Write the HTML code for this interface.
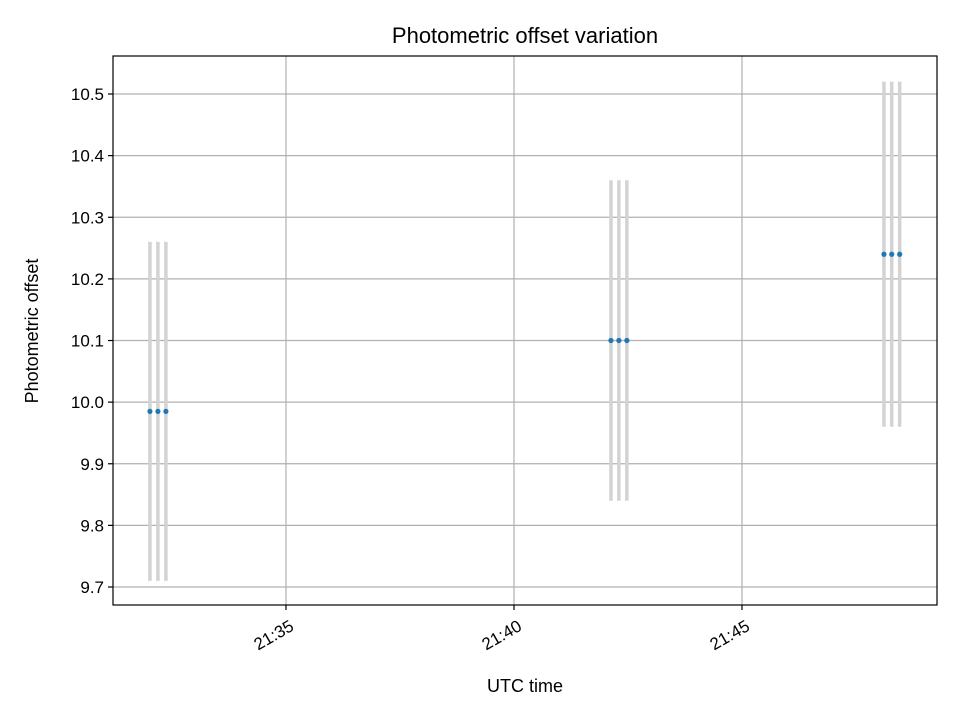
<!DOCTYPE html>
<html><head><meta charset="utf-8"><style>
body{margin:0;background:#fff;}
svg text{font-family:"Liberation Sans","DejaVu Sans",sans-serif;fill:#000;}
</style></head><body>
<svg id="chart" width="960" height="720">
<text x="525" y="43" font-size="22" text-anchor="middle">Photometric offset variation</text>
<text x="525" y="692" font-size="18" text-anchor="middle">UTC time</text>
<text transform="translate(38,331) rotate(-90)" font-size="18" text-anchor="middle">Photometric offset</text>
<g id="grid"></g><g id="marks"></g>
<rect x="113" y="56" width="824" height="549" fill="none" stroke="#000" stroke-width="1.2"/>
<g id="ticks"></g>
</svg>
<script>
// times in seconds after 21:00 UTC
const times = [1921, 1931.5, 1942, 2527.6, 2538, 2548.5, 2886.8, 2897, 2907.5];
const offsets = [9.985, 9.985, 9.985, 10.10, 10.10, 10.10, 10.24, 10.24, 10.24];
const errors = [0.275, 0.275, 0.275, 0.26, 0.26, 0.26, 0.28, 0.28, 0.28];
const yTicks = [9.7, 9.8, 9.9, 10.0, 10.1, 10.2, 10.3, 10.4, 10.5];
const xTicks = [2100, 2400, 2700];
const xTickLabels = ["21:35", "21:40", "21:45"];

const L=113,R=937,T=56,B=605;
const xMin=1872.4,xMax=2956.6,yMin=9.6708,yMax=10.5617;
const X=v=>L+(v-xMin)/(xMax-xMin)*(R-L);
const Y=v=>B-(v-yMin)/(yMax-yMin)*(B-T);
const NS="http://www.w3.org/2000/svg";
function mk(tag,attrs,parent){const e=document.createElementNS(NS,tag);for(const k in attrs)e.setAttribute(k,attrs[k]);parent.appendChild(e);return e;}
const grid=document.getElementById('grid'),marks=document.getElementById('marks'),ticks=document.getElementById('ticks');
yTicks.forEach(v=>{
  const y=Y(v);
  const g=mk('line',{x1:L,x2:R,y1:y,y2:y,stroke:'#b0b0b0','stroke-width':1.2},grid);
  
  
  const t=mk('line',{x1:L-5,x2:L,y1:y,y2:y,stroke:'#000','stroke-width':1.2},ticks);
  
  
  const tx=mk('text',{x:L-9,y:y+6,'font-size':17,'text-anchor':'end'},ticks);
  tx.textContent=v.toFixed(1);
  
  
});
xTicks.forEach((v,i)=>{
  const x=X(v);
  const g=mk('line',{x1:x,x2:x,y1:T,y2:B,stroke:'#b0b0b0','stroke-width':1.2},grid);
  
  
  const t=mk('line',{x1:x,x2:x,y1:B,y2:B+5,stroke:'#000','stroke-width':1.2},ticks);
  
  
  const tx=mk('text',{transform:`translate(${x+3},${B+14}) rotate(-30)`,'font-size':17,'text-anchor':'end','dominant-baseline':'hanging'},ticks);
  tx.textContent=xTickLabels[i];
  
  
});
times.forEach((t,i)=>{
  const x=X(t);
  const e=mk('line',{x1:x,x2:x,y1:Y(offsets[i]-errors[i]),y2:Y(offsets[i]+errors[i]),stroke:'#d3d3d3','stroke-width':3.5},marks);
  
  
});
times.forEach((t,i)=>{
  const c=mk('circle',{cx:X(t),cy:Y(offsets[i]),r:2.6,fill:'#1f77b4'},marks);
  
  
});
</script>
</body></html>
